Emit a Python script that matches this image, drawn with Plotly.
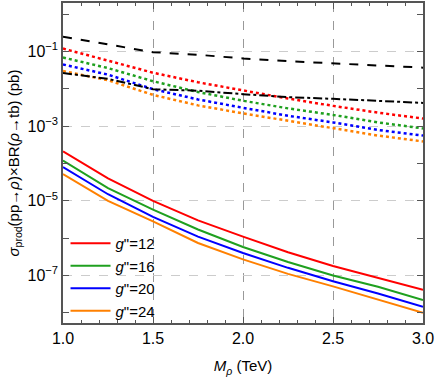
import plotly.graph_objects as go

# masas del rho (TeV)
m_rho = [1.0, 1.25, 1.5, 1.75, 2.0, 2.25, 2.5, 2.75, 3.0]

# sigma x BR (pb), curvas solidas por g''
sol_g12 = [2.1e-4, 4.0e-5, 1.0e-5, 3.0e-6, 1.1e-6, 4.2e-7, 1.8e-7, 8.7e-8, 4.1e-8]
sol_g16 = [1.2e-4, 2.2e-5, 5.8e-6, 1.7e-6, 5.8e-7, 2.3e-7, 1.0e-7, 5.0e-8, 2.2e-8]
sol_g20 = [8.0e-5, 1.5e-5, 3.7e-6, 1.1e-6, 4.0e-7, 1.6e-7, 7.0e-8, 3.3e-8, 1.45e-8]
sol_g24 = [5.2e-5, 1.0e-5, 2.8e-6, 7.4e-7, 2.7e-7, 1.1e-7, 5.1e-8, 2.3e-8, 1.0e-8]

# curvas punteadas
dot_g12 = [0.12, 0.057, 0.027, 0.015, 0.0091, 0.0055, 0.0035, 0.0023, 0.0016]
dot_g16 = [0.069, 0.036, 0.016, 0.0082, 0.0048, 0.0030, 0.0020, 0.00126, 0.00087]
dot_g20 = [0.045, 0.024, 0.0098, 0.0052, 0.0031, 0.0019, 0.00126, 0.00079, 0.00056]
dot_g24 = [0.030, 0.017, 0.0069, 0.0036, 0.0022, 0.0014, 0.00087, 0.00056, 0.00039]

# limites (negro)
lim_dash = [0.25, 0.156, 0.096, 0.082, 0.065, 0.055, 0.048, 0.042, 0.037]
lim_dashdot = [0.0266, 0.0185, 0.0098, 0.0089, 0.0072, 0.0060, 0.0054, 0.0047, 0.0042]

labels = ["12", "16", "20", "24"]
colores = ["#ff0000", "#1fa01f", "#0000ff", "#ff8000"]

fig = go.Figure()

for sol, lab, col in zip([sol_g12, sol_g16, sol_g20, sol_g24], labels, colores):
    fig.add_trace(go.Scatter(
        x=m_rho, y=sol, mode="lines", name=f"<i>g</i>\"={lab}",
        line=dict(color=col, width=2),
    ))

for dot, col in zip([dot_g12, dot_g16, dot_g20, dot_g24], colores):
    fig.add_trace(go.Scatter(
        x=m_rho, y=dot, mode="lines", showlegend=False,
        line=dict(color=col, width=2.5, dash="dot"),
    ))

fig.add_trace(go.Scatter(
    x=m_rho, y=lim_dash, mode="lines", showlegend=False,
    line=dict(color="black", width=2, dash="dash"),
))
fig.add_trace(go.Scatter(
    x=m_rho, y=lim_dashdot, mode="lines", showlegend=False,
    line=dict(color="black", width=2, dash="dashdot"),
))

fig.update_xaxes(
    range=[1.0, 3.0],
    tickvals=[1.0, 1.5, 2.0, 2.5, 3.0],
    ticktext=["1.0", "1.5", "2.0", "2.5", "3.0"],
    ticks="inside", ticklen=6, tickcolor="#555",
    minor=dict(dtick=0.1, tick0=1.0, ticks="inside", ticklen=3, tickcolor="#555", showgrid=False),
    showline=True, linecolor="#555", linewidth=1.5, mirror="allticks",
    showgrid=True, gridcolor="#999", griddash="dash", gridwidth=1,
    zeroline=False, ticklabeloverflow="allow",
    tickfont=dict(size=16, color="black"),
    title=dict(text="<i>M<sub>ρ</sub></i> (TeV)", font=dict(size=15, color="black"), standoff=15),
)

fig.update_yaxes(
    type="log",
    range=[-8.274, 0.30],
    tickvals=[1e-7, 1e-5, 1e-3, 1e-1],
    ticktext=["10<sup>−7</sup>", "10<sup>−5</sup>", "10<sup>−3</sup>", "10<sup>−1</sup>"],
    ticks="inside", ticklen=6, tickcolor="#555",
    minor=dict(tickvals=[1e-8, 1e-6, 1e-4, 1e-2, 1], ticks="inside", ticklen=6,
               tickcolor="#555", showgrid=False),
    showline=True, linecolor="#555", linewidth=1.5, mirror="allticks",
    showgrid=True, gridcolor="#ccc", griddash="dash", gridwidth=1,
    zeroline=False,
    tickfont=dict(size=16, color="black"),
    title=dict(
        text="<i>σ</i><sub>prod</sub>(pp→<i>ρ</i>)×BR(<i>ρ</i>→tb) (pb)",
        font=dict(size=15, color="black"), standoff=4,
    ),
)

fig.update_layout(
    width=436, height=382,
    margin=dict(l=63, r=13, t=1, b=59),
    plot_bgcolor="white", paper_bgcolor="white",
    font=dict(family="Liberation Sans, Arial, sans-serif", color="black"),
    legend=dict(
        x=0.007, y=0.30, xanchor="left", yanchor="top",
        bgcolor="rgba(255,255,255,0)", font=dict(size=15),
        tracegroupgap=0, itemwidth=40,
    ),
)

# sin barra de herramientas y sin margen del body, la figura queda en (0, 0)
fig.write_html(
    "out.html",
    config={"displayModeBar": False},
    post_script="document.body.style.margin='0';",
)
